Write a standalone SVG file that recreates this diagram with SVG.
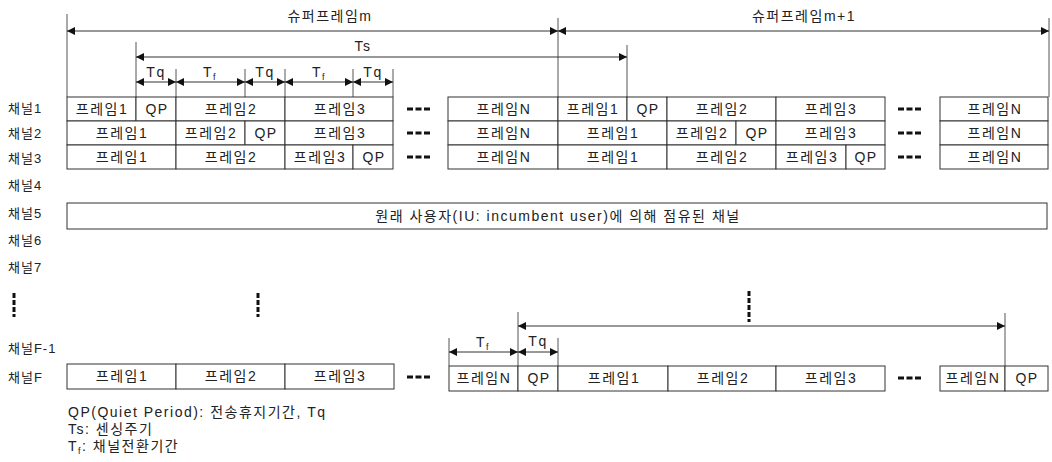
<svg xmlns="http://www.w3.org/2000/svg" width="1052" height="462" viewBox="0 0 1052 462">
<style>
text{font-family:"Liberation Sans","Noto Sans CJK KR",sans-serif;fill:#222;}
.c{font-size:14px;text-anchor:middle;letter-spacing:1.5px;}
.lbl{font-size:13px;letter-spacing:1px;}
.lg{font-size:14px;letter-spacing:1.5px;}
.t{font-size:14px;text-anchor:middle;letter-spacing:1.5px;}
.cell{fill:#fff;stroke:#333;stroke-width:1;}
.g{stroke:#555;stroke-width:1;fill:none;}
.arr{stroke:#333;stroke-width:1;fill:none;marker-start:url(#ah);marker-end:url(#ah);}
.dots{stroke:#111;stroke-width:3;stroke-dasharray:6,2.5;}
.vd{stroke:#111;stroke-width:3;stroke-dasharray:5,2;}
</style>
<defs>
<marker id="ah" viewBox="0 0 8 8" refX="8" refY="4" markerWidth="8" markerHeight="8" markerUnits="userSpaceOnUse" orient="auto-start-reverse">
<path d="M0,0 L8,4 L0,8 z" fill="#111"/>
</marker>
</defs>
<rect width="1052" height="462" fill="#fff"/>

<g id="timing">
<line class="g" x1="67" y1="14" x2="67" y2="97"/>
<line class="g" x1="558" y1="18" x2="558" y2="97"/>
<line class="g" x1="1049" y1="18" x2="1049" y2="97"/>
<line class="g" x1="136" y1="42" x2="136" y2="97"/>
<line class="g" x1="627" y1="45" x2="627" y2="97"/>
<line class="g" x1="176" y1="69" x2="176" y2="97"/>
<line class="g" x1="245" y1="69" x2="245" y2="97"/>
<line class="g" x1="285" y1="69" x2="285" y2="97"/>
<line class="g" x1="353" y1="69" x2="353" y2="97"/>
<line class="g" x1="393" y1="69" x2="393" y2="97"/>
<line class="arr" x1="67" y1="31" x2="558" y2="31"/>
<line class="arr" x1="558" y1="31" x2="1049" y2="31"/>
<line class="arr" x1="136" y1="57" x2="627" y2="57"/>
<line class="arr" x1="136" y1="82" x2="176" y2="82"/>
<line class="arr" x1="176" y1="82" x2="245" y2="82"/>
<line class="arr" x1="245" y1="82" x2="285" y2="82"/>
<line class="arr" x1="285" y1="82" x2="353" y2="82"/>
<line class="arr" x1="353" y1="82" x2="393" y2="82"/>
<text class="t" x="330" y="21">슈퍼프레임m</text>
<text class="t" x="804" y="21">슈퍼프레임m+1</text>
<text class="t" x="363" y="51">Ts</text>
<text class="t" x="156" y="77">Tq</text>
<text class="t" x="210" y="77">T<tspan font-size="9" dy="3">f</tspan></text>
<text class="t" x="265" y="77">Tq</text>
<text class="t" x="319" y="77">T<tspan font-size="9" dy="3">f</tspan></text>
<text class="t" x="373" y="77">Tq</text>
</g>

<g id="labels">
<text class="lbl" x="8" y="113">채널1</text>
<text class="lbl" x="8" y="138">채널2</text>
<text class="lbl" x="8" y="163">채널3</text>
<text class="lbl" x="8" y="190">채널4</text>
<text class="lbl" x="8" y="218">채널5</text>
<text class="lbl" x="8" y="245">채널6</text>
<text class="lbl" x="8" y="272">채널7</text>
<text class="lbl" x="8" y="353">채널F-1</text>
<text class="lbl" x="8" y="382">채널F</text>
</g>

<g id="ch1">
<rect class="cell" x="67" y="97" width="69" height="24"/><text class="c" x="102" y="114">프레임1</text>
<rect class="cell" x="136" y="97" width="40" height="24"/><text class="c" x="157" y="114">QP</text>
<rect class="cell" x="176" y="97" width="109" height="24"/><text class="c" x="231" y="114">프레임2</text>
<rect class="cell" x="285" y="97" width="108" height="24"/><text class="c" x="340" y="114">프레임3</text>
<line class="dots" x1="407" y1="109" x2="430" y2="109"/>
<rect class="cell" x="448" y="97" width="110" height="24"/><text class="c" x="504" y="114">프레임N</text>
<rect class="cell" x="558" y="97" width="69" height="24"/><text class="c" x="593" y="114">프레임1</text>
<rect class="cell" x="627" y="97" width="40" height="24"/><text class="c" x="648" y="114">QP</text>
<rect class="cell" x="667" y="97" width="109" height="24"/><text class="c" x="722" y="114">프레임2</text>
<rect class="cell" x="776" y="97" width="109" height="24"/><text class="c" x="831" y="114">프레임3</text>
<line class="dots" x1="898" y1="109" x2="921" y2="109"/>
<rect class="cell" x="940" y="97" width="108" height="24"/><text class="c" x="995" y="114">프레임N</text>
</g>

<g id="ch2">
<rect class="cell" x="67" y="121" width="109" height="24"/><text class="c" x="122" y="138">프레임1</text>
<rect class="cell" x="176" y="121" width="69" height="24"/><text class="c" x="211" y="138">프레임2</text>
<rect class="cell" x="245" y="121" width="40" height="24"/><text class="c" x="266" y="138">QP</text>
<rect class="cell" x="285" y="121" width="108" height="24"/><text class="c" x="340" y="138">프레임3</text>
<line class="dots" x1="407" y1="133" x2="430" y2="133"/>
<rect class="cell" x="448" y="121" width="110" height="24"/><text class="c" x="504" y="138">프레임N</text>
<rect class="cell" x="558" y="121" width="109" height="24"/><text class="c" x="613" y="138">프레임1</text>
<rect class="cell" x="667" y="121" width="69" height="24"/><text class="c" x="702" y="138">프레임2</text>
<rect class="cell" x="736" y="121" width="40" height="24"/><text class="c" x="757" y="138">QP</text>
<rect class="cell" x="776" y="121" width="109" height="24"/><text class="c" x="831" y="138">프레임3</text>
<line class="dots" x1="898" y1="133" x2="921" y2="133"/>
<rect class="cell" x="940" y="121" width="108" height="24"/><text class="c" x="995" y="138">프레임N</text>
</g>

<g id="ch3">
<rect class="cell" x="67" y="145" width="109" height="24"/><text class="c" x="122" y="162">프레임1</text>
<rect class="cell" x="176" y="145" width="109" height="24"/><text class="c" x="231" y="162">프레임2</text>
<rect class="cell" x="285" y="145" width="68" height="24"/><text class="c" x="320" y="162">프레임3</text>
<rect class="cell" x="353" y="145" width="40" height="24"/><text class="c" x="374" y="162">QP</text>
<line class="dots" x1="407" y1="157" x2="430" y2="157"/>
<rect class="cell" x="448" y="145" width="110" height="24"/><text class="c" x="504" y="162">프레임N</text>
<rect class="cell" x="558" y="145" width="109" height="24"/><text class="c" x="613" y="162">프레임1</text>
<rect class="cell" x="667" y="145" width="109" height="24"/><text class="c" x="722" y="162">프레임2</text>
<rect class="cell" x="776" y="145" width="70" height="24"/><text class="c" x="812" y="162">프레임3</text>
<rect class="cell" x="846" y="145" width="39" height="24"/><text class="c" x="866" y="162">QP</text>
<line class="dots" x1="898" y1="157" x2="921" y2="157"/>
<rect class="cell" x="940" y="145" width="108" height="24"/><text class="c" x="995" y="162">프레임N</text>
</g>

<g id="ch5">
<rect class="cell" x="67" y="203" width="980" height="26"/>
<text class="c" x="558" y="221">원래 사용자(IU: incumbent user)에 의해 점유된 채널</text>
</g>

<g id="ellipsis">
<line class="vd" x1="14" y1="293" x2="14" y2="317"/>
<line class="vd" x1="258" y1="293" x2="258" y2="317"/>
<line class="vd" x1="749" y1="291" x2="749" y2="322"/>
</g>

<g id="chF">
<rect class="cell" x="67" y="364" width="109" height="25"/><text class="c" x="122" y="381">프레임1</text>
<rect class="cell" x="176" y="364" width="109" height="25"/><text class="c" x="231" y="381">프레임2</text>
<rect class="cell" x="285" y="364" width="109" height="25"/><text class="c" x="340" y="381">프레임3</text>
<line class="dots" x1="407" y1="377" x2="430" y2="377"/>
<rect class="cell" x="449" y="366" width="69" height="25"/><text class="c" x="484" y="383">프레임N</text>
<rect class="cell" x="518" y="366" width="40" height="25"/><text class="c" x="539" y="383">QP</text>
<rect class="cell" x="558" y="366" width="110" height="25"/><text class="c" x="614" y="383">프레임1</text>
<rect class="cell" x="668" y="366" width="108" height="25"/><text class="c" x="723" y="383">프레임2</text>
<rect class="cell" x="776" y="366" width="109" height="25"/><text class="c" x="831" y="383">프레임3</text>
<line class="dots" x1="898" y1="378" x2="921" y2="378"/>
<rect class="cell" x="940" y="366" width="65" height="25"/><text class="c" x="973" y="383">프레임N</text>
<rect class="cell" x="1005" y="366" width="43" height="25"/><text class="c" x="1027" y="383">QP</text>
</g>

<g id="timingF">
<line class="g" x1="449" y1="338" x2="449" y2="366"/>
<line class="g" x1="518" y1="312" x2="518" y2="366"/>
<line class="g" x1="558" y1="338" x2="558" y2="366"/>
<line class="g" x1="1005" y1="313" x2="1005" y2="366"/>
<line class="arr" x1="449" y1="352" x2="518" y2="352"/>
<line class="arr" x1="518" y1="352" x2="558" y2="352"/>
<line class="arr" x1="518" y1="326" x2="1005" y2="326"/>
<text class="t" x="483" y="347">T<tspan font-size="9" dy="3">f</tspan></text>
<text class="t" x="538" y="346">Tq</text>
</g>

<g id="legend">
<text class="lg" x="68" y="417">QP(Quiet Period): 전송휴지기간, Tq</text>
<text class="lg" x="68" y="434">Ts: 센싱주기</text>
<text class="lg" x="68" y="451">T<tspan font-size="9" dy="3">f</tspan><tspan dy="-3">: 채널전환기간</tspan></text>
</g>
</svg>
